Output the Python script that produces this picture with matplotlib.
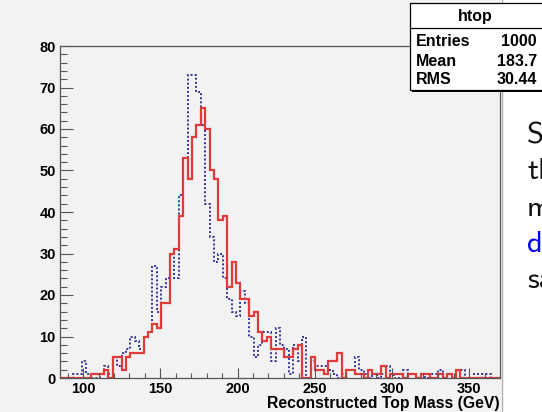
import matplotlib
matplotlib.use('Agg')
import matplotlib.pyplot as plt
import numpy as np
from matplotlib.patches import Rectangle
from matplotlib.lines import Line2D

# histogram binning (100 bins over the displayed range)
bin_lo, bin_hi, n_bins = 85.0, 370.0, 100

# solid red histogram (htop)
red_counts = [0, 0, 0, 0, 0, 0, 0, 1, 1, 1,
              2, 0, 5, 5, 2, 5, 6, 6, 6, 10,
              11, 13, 12, 18, 18, 30, 31, 39, 53, 48,
              58, 61, 65, 60, 50, 48, 38, 39, 22, 28,
              23, 19, 19, 15, 16, 11, 9, 10, 7, 7,
              7, 5, 5, 7, 8, 0, 0, 5, 2, 2,
              1, 4, 4, 6, 0, 2, 2, 1, 1, 0,
              2, 1, 1, 3, 0, 1, 1, 1, 0, 1,
              1, 0, 1, 1, 0, 0, 1, 0, 1, 0,
              2, 0, 0, 0, 0, 0, 0, 0, 0, 0]

# dotted blue histogram
blue_counts = [0, 0, 0, 1, 1, 4, 1, 0, 0, 1,
               3, 1, 5, 3, 6, 7, 10, 9, 7, 10,
               11, 27, 16, 22, 24, 30, 24, 44, 53, 73,
               73, 69, 61, 42, 34, 28, 30, 24, 19, 16,
               15, 21, 18, 10, 5, 8, 11, 11, 4, 12,
               8, 7, 1, 8, 4, 10, 0, 4, 3, 3,
               3, 2, 1, 0, 1, 2, 2, 5, 2, 1,
               0, 1, 0, 1, 3, 1, 0, 1, 2, 1,
               1, 0, 1, 0, 1, 1, 2, 0, 1, 0,
               2, 2, 0, 0, 1, 0, 1, 1, 0, 0]

x_ticks = [100, 150, 200, 250, 300, 350]
y_ticks = [0, 10, 20, 30, 40, 50, 60, 70, 80]
x_title = 'Reconstructed Top Mass (GeV)'

stats_title = 'htop'
stats_rows = [('Entries', '1000'), ('Mean', '183.7'), ('RMS', '30.44')]

slide_lines = [('S', '#111111'), ('th', '#111111'), ('m', '#111111'),
               ('d', '#0000ff'), ('sa', '#111111')]

W, H = 542, 412
canvas_gray = '#f2f2f2'

def fx(px):
    return px / W

def fy(py):
    return 1 - py / H

fig = plt.figure(figsize=(W / 100, H / 100), dpi=100)
fig.patch.set_facecolor('white')

# grey ROOT canvas on the left part of the screenshot
fig.add_artist(Rectangle((0, 0), fx(501), 1, transform=fig.transFigure,
                         facecolor=canvas_gray, edgecolor='none', zorder=0))
fig.add_artist(Line2D([fx(501.5), fx(501.5)], [0, 1], transform=fig.transFigure,
                      color='#b0b0b0', lw=1.0, zorder=1))

ax = fig.add_axes([fx(60), fy(378), fx(440), 332 / H])
ax.set_facecolor(canvas_gray)

edges = np.linspace(bin_lo, bin_hi, n_bins + 1)
ax.stairs(blue_counts, edges, color='#34349a', lw=1.4, linestyle=(0, (1, 1.1)))
ax.stairs(red_counts, edges, color='#e03a3a', lw=1.6)

ax.set_xlim(bin_lo, bin_hi)
ax.set_ylim(0, 80)
ax.set_xticks(x_ticks)
ax.set_yticks(y_ticks)
ax.set_xticks(np.arange(90, 370, 10), minor=True)
ax.set_yticks(np.arange(0, 80.1, 2), minor=True)

tick_font = dict(family='Liberation Sans', weight='bold', size=10.5)
ax.set_xticklabels([str(v) for v in x_ticks], fontdict=tick_font)
ax.set_yticklabels([str(v) for v in y_ticks], fontdict=tick_font)
ax.tick_params(axis='both', which='both', direction='in', color='#555555', width=0.8)
ax.tick_params(axis='y', which='major', length=9.5, pad=3)
ax.tick_params(axis='y', which='minor', length=4.7)
ax.tick_params(axis='x', which='major', length=7.2, pad=3)
ax.tick_params(axis='x', which='minor', length=3.6)
for s in ax.spines.values():
    s.set_color('#555555')
    s.set_linewidth(0.9)

ax.set_xlabel(x_title, family='Liberation Sans', weight='bold', size=11.3,
              loc='right', labelpad=0)

# stats box
bx0, by0, bx1, by1 = 410, 3, 545, 90
fig.add_artist(Rectangle((fx(bx0 + 2), fy(by1 + 2)), fx(bx1 - bx0), (by1 - by0) / H,
                         transform=fig.transFigure, facecolor='black',
                         edgecolor='none', zorder=5))
fig.add_artist(Rectangle((fx(bx0), fy(by1)), fx(bx1 - bx0), (by1 - by0) / H,
                         transform=fig.transFigure, facecolor='white',
                         edgecolor='black', lw=0.9, zorder=6))
fig.add_artist(Line2D([fx(bx0), fx(bx1)], [fy(28), fy(28)], transform=fig.transFigure,
                      color='black', lw=0.9, zorder=7))
stat_font = dict(family='Liberation Sans', weight='bold', size=11.5, zorder=8)
fig.text(fx(475), fy(16), stats_title, ha='center', va='center', **stat_font)
for k, (name, val) in enumerate(stats_rows):
    yy = fy(42 + k * 19)
    fig.text(fx(416), yy, name, ha='left', va='center', **stat_font)
    fig.text(fx(537), yy, val, ha='right', va='center', **stat_font)

# clipped slide text on the right
for k, (txt, col) in enumerate(slide_lines):
    fig.text(fx(527), fy(143 + k * 36.3), txt, color=col, family='cmss10',
             size=22, ha='left', va='baseline')

fig.savefig('out.png', dpi=100)
